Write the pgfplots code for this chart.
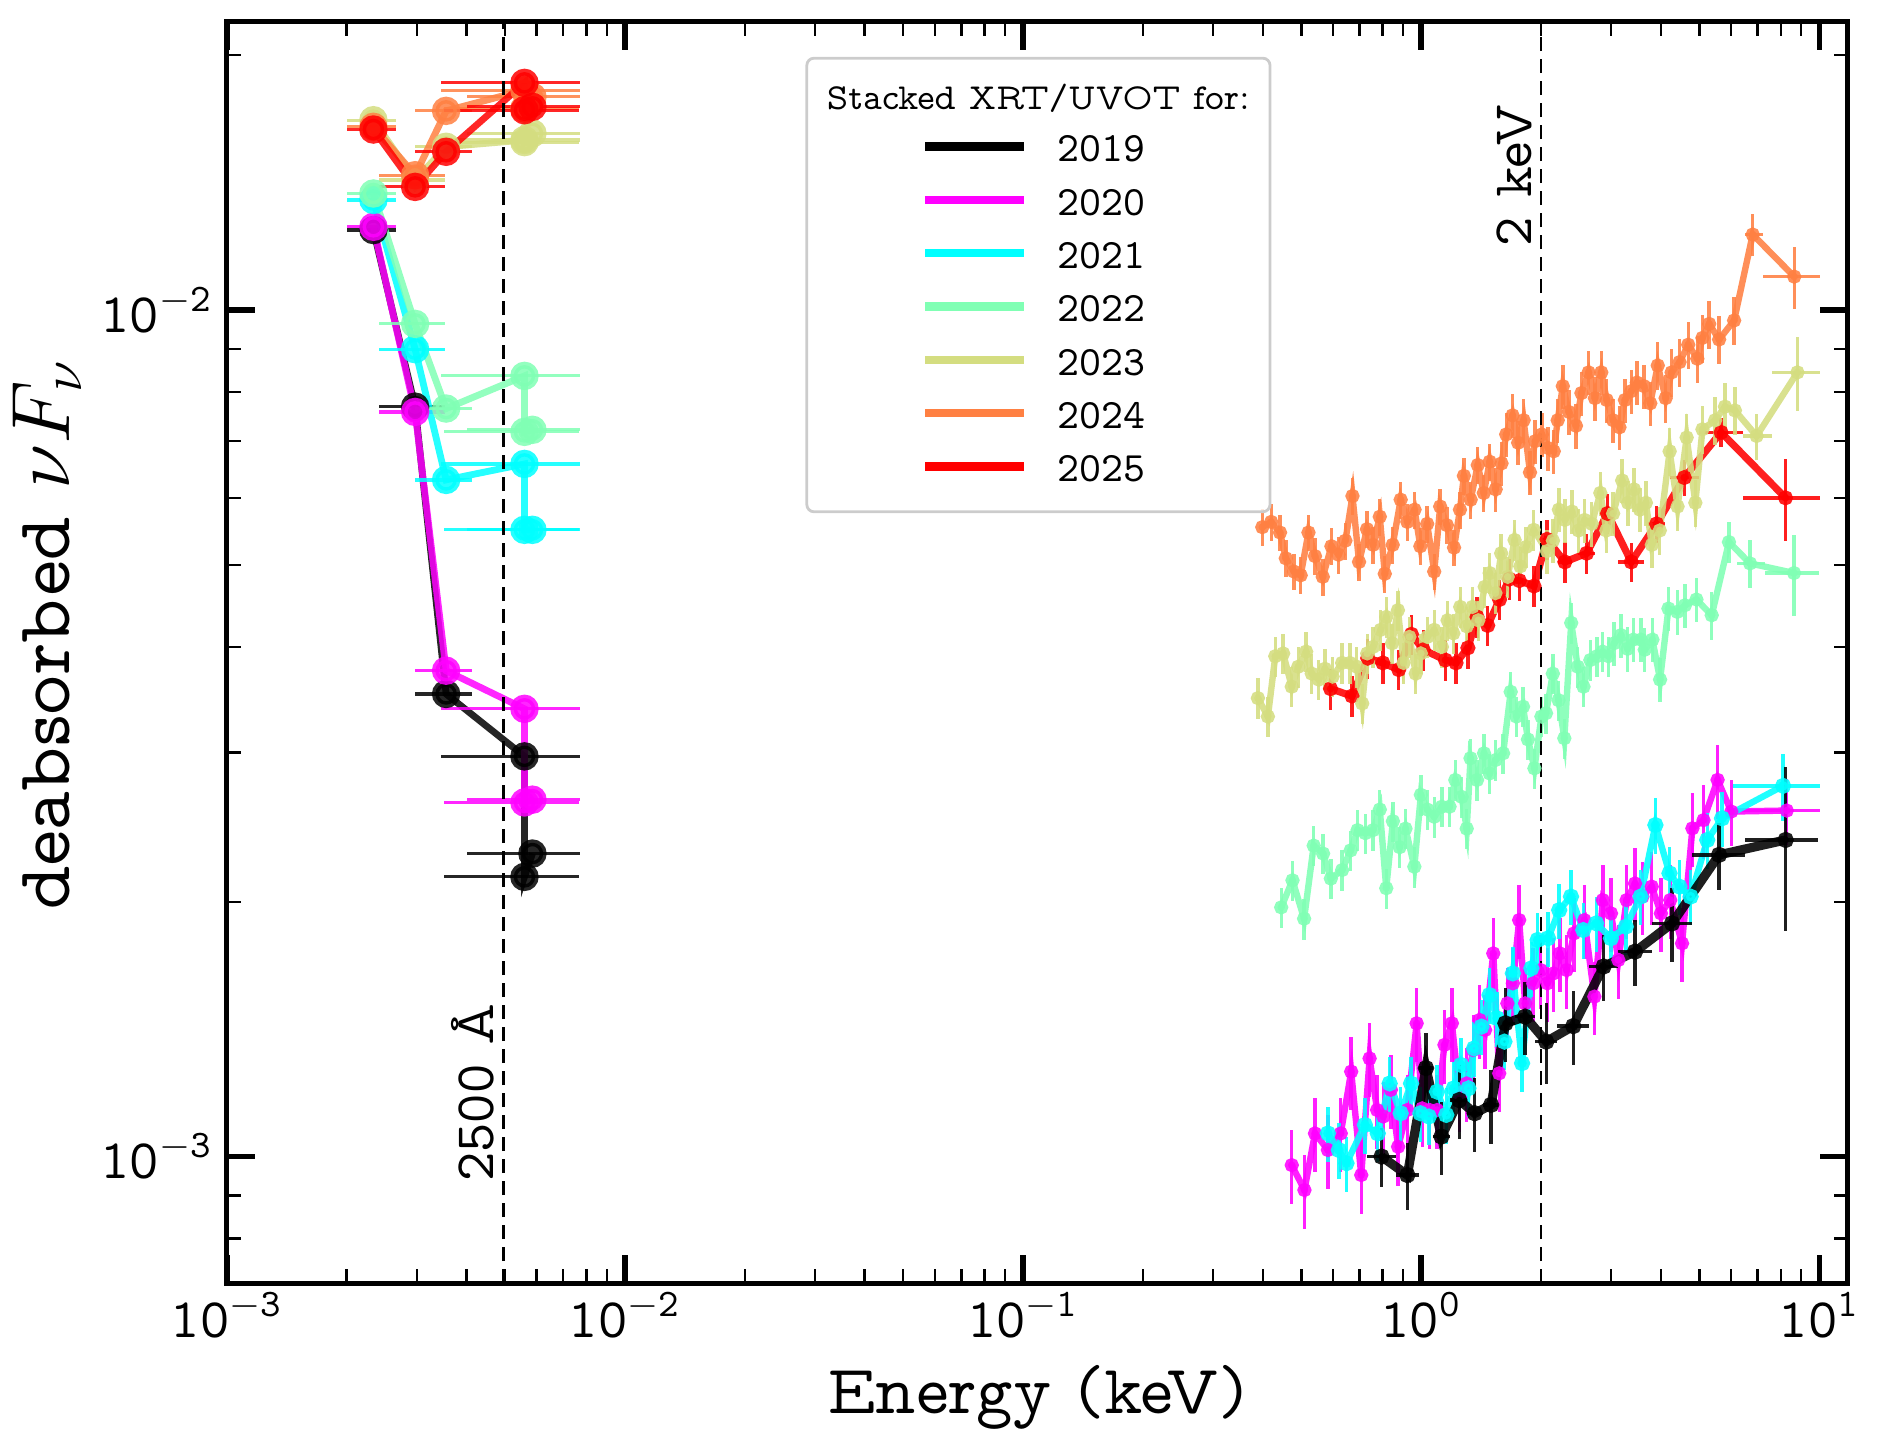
\documentclass[border=0pt]{standalone}
\usepackage{pgfplots}
\pgfplotsset{compat=1.18}
\newcommand{\lmv}{\fontfamily{lmvtt}\selectfont}
\definecolor{cA}{RGB}{0,0,0}
\definecolor{cB}{RGB}{255,0,255}
\definecolor{cC}{RGB}{0,255,255}
\definecolor{cD}{RGB}{128,255,180}
\definecolor{cE}{RGB}{212,221,128}
\definecolor{cF}{RGB}{255,128,66}
\definecolor{cG}{RGB}{255,0,0}
\definecolor{legborder}{RGB}{204,204,204}
\pgfplotsset{
  uvst/.style={line width=1.7bp, mark=*, mark size=2.7bp, opacity=0.85,
     error bars/x dir=both, error bars/x explicit, error bars/error mark=none,
     error bars/error bar style={line width=0.8bp, solid}},
  xrst/.style={line width=1.6bp, mark=*, mark size=0.95bp, opacity=0.88,
     error bars/x dir=both, error bars/x explicit,
     error bars/y dir=both, error bars/y explicit relative,
     error bars/error mark=none,
     error bars/error bar style={line width=0.85bp, solid}},
}
\begin{document}
\begin{tikzpicture}
\begin{axis}[
  scale only axis, width=405.3bp, height=315.3bp,
  xmode=log, ymode=log,
  xmin=1e-3, xmax=11.8, ymin=7.09e-4, ymax=0.0219,
  axis line style={line width=1.25bp},
  tick align=inside, xtick pos=both, ytick pos=both,
  xtick={1e-3,1e-2,1e-1,1,10},
  xticklabels={{10\textsuperscript{$-$3}},{10\textsuperscript{$-$2}},{10\textsuperscript{$-$1}},{10\textsuperscript{0}},{10\textsuperscript{1}}},
  ytick={1e-3,1e-2},
  yticklabels={{10\textsuperscript{$-$3}},{10\textsuperscript{$-$2}}},
  minor xtick={2e-3,3e-3,4e-3,5e-3,6e-3,7e-3,8e-3,9e-3,2e-2,3e-2,4e-2,5e-2,6e-2,7e-2,8e-2,9e-2,0.2,0.3,0.4,0.5,0.6,0.7,0.8,0.9,2,3,4,5,6,7,8,9},
  minor ytick={8e-4,9e-4,2e-3,3e-3,4e-3,5e-3,6e-3,7e-3,8e-3,9e-3,2e-2},
  major tick length=7bp, minor tick length=3.5bp,
  major tick style={line width=1.4bp, black},
  minor tick style={line width=0.6bp, black},
  tick label style={font=\fontsize{14}{16}\lmv},
  xticklabel style={yshift=1.3bp},
  xlabel={Energy (keV)},
  ylabel={deabsorbed $\nu F_\nu$},
  xlabel style={font=\fontsize{17.4}{20}\lmv, at={(axis description cs:0.5,-0.1034)}, anchor=base},
  ylabel style={font=\fontsize{19.2}{22}\lmv, at={(axis description cs:-0.097,0.514)}, anchor=base},
]
% ---------------- UV ----------------
\addplot[color=cA, uvst] table[x=x, y=y, x error=ex] {
x y ex
2.335e-3 1.243e-2 0.33e-3
2.972e-3 7.69e-3 0.56e-3
3.556e-3 3.52e-3 0.58e-3
5.594e-3 2.97e-3 2.14e-3
5.594e-3 2.14e-3 2.09e-3
5.858e-3 2.28e-3 1.85e-3
};
\addplot[color=cB, uvst] table[x=x, y=y, x error=ex] {
x y ex
2.335e-3 1.254e-2 0.33e-3
2.972e-3 7.58e-3 0.56e-3
3.556e-3 3.75e-3 0.58e-3
5.594e-3 3.38e-3 2.14e-3
5.594e-3 2.62e-3 2.09e-3
5.858e-3 2.64e-3 1.85e-3
};
\addplot[color=cC, uvst] table[x=x, y=y, x error=ex] {
x y ex
2.335e-3 1.349e-2 0.33e-3
2.972e-3 8.99e-3 0.56e-3
3.556e-3 6.30e-3 0.58e-3
5.594e-3 6.58e-3 2.14e-3
5.594e-3 5.50e-3 2.09e-3
5.858e-3 5.50e-3 1.85e-3
};
\addplot[color=cD, uvst] table[x=x, y=y, x error=ex] {
x y ex
2.335e-3 1.373e-2 0.33e-3
2.972e-3 9.63e-3 0.56e-3
3.556e-3 7.65e-3 0.58e-3
5.594e-3 8.36e-3 2.14e-3
5.594e-3 7.18e-3 2.09e-3
5.858e-3 7.22e-3 1.85e-3
};
\addplot[color=cE, uvst] table[x=x, y=y, x error=ex] {
x y ex
2.335e-3 1.676e-2 0.33e-3
2.972e-3 1.424e-2 0.56e-3
3.556e-3 1.559e-2 0.58e-3
5.594e-3 1.588e-2 2.14e-3
5.594e-3 1.579e-2 2.09e-3
5.858e-3 1.617e-2 1.85e-3
};
\addplot[color=cF, uvst] table[x=x, y=y, x error=ex] {
x y ex
2.335e-3 1.646e-2 0.33e-3
2.972e-3 1.443e-2 0.56e-3
3.556e-3 1.719e-2 0.58e-3
5.594e-3 1.819e-2 2.14e-3
5.594e-3 1.730e-2 2.09e-3
5.858e-3 1.786e-2 1.85e-3
};
\addplot[color=cG, uvst] table[x=x, y=y, x error=ex] {
x y ex
2.335e-3 1.634e-2 0.33e-3
2.972e-3 1.398e-2 0.56e-3
3.556e-3 1.538e-2 0.58e-3
5.594e-3 1.855e-2 2.14e-3
5.594e-3 1.722e-2 2.09e-3
5.858e-3 1.738e-2 1.85e-3
};
% ---------------- X-ray ----------------
% 2020
\addplot[color=cB, xrst] table[x=x, y=y, x error minus=exm, x error plus=exp, y error=ey] {
x y exm exp ey
0.473 0.977e-3 0 0 0.10
0.509 0.913e-3 0 0 0.10
0.541 1.065e-3 0 0 0.10
0.583 1.018e-3 0 0 0.10
0.628 1.065e-3 0 0 0.10
0.667 1.260e-3 0 0 0.10
0.707 0.951e-3 0 0 0.10
0.742 1.306e-3 0 0 0.10
0.775 1.135e-3 0 0 0.10
0.803 1.115e-3 0 0 0.10
0.839 1.199e-3 0 0 0.10
0.875 1.027e-3 0 0 0.10
0.923 1.135e-3 0 0 0.10
0.974 1.437e-3 0 0 0.10
1.006 1.140e-3 0 0 0.10
1.050 1.135e-3 0 0 0.10
1.096 1.135e-3 0 0 0.10
1.144 1.355e-3 0 0 0.10
1.194 1.437e-3 0 0 0.10
1.246 1.188e-3 0 0 0.10
1.300 1.220e-3 0 0 0.10
1.351 1.336e-3 0 0 0.10
1.402 1.450e-3 0 0 0.10
1.447 1.411e-3 0 0 0.10
1.517 1.738e-3 0 0 0.10
1.570 1.254e-3 0 0 0.10
1.646 1.517e-3 0 0 0.10
1.699 1.602e-3 0 0 0.10
1.762 1.903e-3 0 0 0.10
1.824 1.517e-3 0 0 0.10
1.911 1.602e-3 0 0 0.10
1.995 1.661e-3 0 0 0.10
2.074 1.602e-3 0 0 0.10
2.150 1.646e-3 0 0 0.10
2.230 1.738e-3 0 0 0.10
2.318 1.661e-3 0 0 0.10
2.419 1.835e-3 0 0 0.10
2.569 1.903e-3 0 0 0.10
2.722 1.545e-3 0 0 0.10
2.859 2.009e-3 0 0 0.10
2.997 1.938e-3 0 0 0.10
3.128 1.707e-3 0 0 0.10
3.280 2.009e-3 0 0 0.10
3.444 2.102e-3 0 0 0.10
3.595 2.028e-3 0 0 0.10
3.793 2.084e-3 0 0 0.10
4.000 1.938e-3 0 0 0.10
4.221 2.009e-3 0 0 0.10
4.520 1.786e-3 0 0 0.10
4.799 2.442e-3 0 0 0.10
5.117 2.497e-3 0 0 0.10
5.551 2.786e-3 0 0 0.10
6.009 2.556e-3 0 0 0.09
8.283 2.563e-3 2.18 1.76 0.09
};
% 2021
\addplot[color=cC, xrst, mark size=1.2bp] table[x=x, y=y, x error minus=exm, x error plus=exp, y error=ey] {
x y exm exp ey
0.583 1.065e-3 0 0 0.075
0.621 1.018e-3 0 0 0.075
0.649 0.982e-3 0 0 0.075
0.722 1.090e-3 0 0 0.075
0.778 1.065e-3 0 0 0.075
0.833 1.220e-3 0 0 0.075
0.888 1.125e-3 0 0 0.075
0.943 1.220e-3 0 0 0.075
0.995 1.125e-3 0 0 0.075
1.045 1.115e-3 0 0 0.075
1.096 1.193e-3 0 0 0.075
1.156 1.120e-3 0 0 0.075
1.207 1.204e-3 0 0 0.075
1.259 1.283e-3 0 0 0.075
1.314 1.204e-3 0 0 0.075
1.357 1.342e-3 0 0 0.075
1.417 1.424e-3 0 0 0.075
1.485 1.552e-3 0 0 0.075
1.550 1.457e-3 0 0 0.075
1.618 1.367e-3 0 0 0.075
1.699 1.646e-3 0 0 0.075
1.792 1.289e-3 0 0 0.075
1.891 1.669e-3 0 0 0.075
1.961 1.803e-3 0 0 0.075
2.083 1.811e-3 0 0 0.075
2.221 1.955e-3 0 0 0.075
2.378 2.028e-3 0 0 0.075
2.553 1.852e-3 0 0 0.075
2.751 1.886e-3 0 0 0.075
2.997 1.811e-3 0 0 0.075
3.265 1.869e-3 0 0 0.075
3.556 2.028e-3 0 0 0.075
3.875 2.464e-3 0 0 0.075
4.203 2.161e-3 0 0 0.075
4.453 2.084e-3 0 0 0.075
4.749 2.028e-3 0 0 0.075
5.228 2.366e-3 0 0 0.075
5.695 2.509e-3 0 0 0.075
8.108 2.741e-3 2.04 1.93 0.09
};
% 2022
\addplot[color=cD, xrst] table[x=x, y=y, x error minus=exm, x error plus=exp, y error=ey] {
x y exm exp ey
0.445 1.97e-3 0 0 0.055
0.475 2.12e-3 0 0 0.055
0.508 1.91e-3 0 0 0.055
0.537 2.33e-3 0 0 0.055
0.567 2.28e-3 0 0 0.055
0.593 2.13e-3 0 0 0.055
0.633 2.18e-3 0 0 0.055
0.665 2.30e-3 0 0 0.055
0.692 2.43e-3 0 0 0.055
0.724 2.41e-3 0 0 0.055
0.757 2.43e-3 0 0 0.055
0.787 2.57e-3 0 0 0.055
0.817 2.075e-3 0 0 0.055
0.849 2.49e-3 0 0 0.055
0.883 2.32e-3 0 0 0.055
0.913 2.44e-3 0 0 0.055
0.961 2.20e-3 0 0 0.055
0.998 2.675e-3 0 0 0.055
1.036 2.57e-3 0 0 0.055
1.078 2.52e-3 0 0 0.055
1.127 2.59e-3 0 0 0.055
1.178 2.59e-3 0 0 0.055
1.218 2.785e-3 0 0 0.055
1.264 2.66e-3 0 0 0.055
1.301 2.44e-3 0 0 0.055
1.330 2.955e-3 0 0 0.055
1.381 2.785e-3 0 0 0.055
1.438 2.995e-3 0 0 0.055
1.486 2.835e-3 0 0 0.055
1.536 2.94e-3 0 0 0.055
1.606 2.995e-3 0 0 0.055
1.678 3.54e-3 0 0 0.055
1.735 3.31e-3 0 0 0.055
1.802 3.40e-3 0 0 0.055
1.854 3.11e-3 0 0 0.055
1.925 2.875e-3 0 0 0.055
2.004 3.31e-3 0 0 0.055
2.058 3.34e-3 0 0 0.055
2.141 3.72e-3 0 0 0.055
2.213 3.46e-3 0 0 0.055
2.288 3.12e-3 0 0 0.055
2.381 4.27e-3 0 0 0.055
2.473 3.79e-3 0 0 0.055
2.556 3.59e-3 0 0 0.055
2.660 3.86e-3 0 0 0.055
2.762 3.90e-3 0 0 0.055
2.855 3.95e-3 0 0 0.055
2.952 3.90e-3 0 0 0.055
3.052 4.04e-3 0 0 0.06
3.176 4.13e-3 0 0 0.06
3.298 3.98e-3 0 0 0.06
3.409 4.08e-3 0 0 0.06
3.563 4.08e-3 0 0 0.06
3.643 3.97e-3 0 0 0.06
3.808 4.08e-3 0 0 0.06
3.981 3.66e-3 0 0 0.06
4.178 4.44e-3 0 0 0.06
4.398 4.40e-3 0 0 0.06
4.597 4.48e-3 0 0 0.06
4.912 4.55e-3 0 0 0.06
5.366 4.36e-3 0 0 0.065
5.929 5.32e-3 0 0 0.055
6.697 5.02e-3 0.50 0.618 0.065
8.638 4.89e-3 1.323 1.337 0.11
};
% 2025
\addplot[color=cG, xrst, line width=1.8bp] table[x=x, y=y, x error minus=exm, x error plus=exp, y error=ey] {
x y exm exp ey
0.592 3.57e-3 0 0 0.055
0.670 3.50e-3 0 0 0.055
0.734 3.88e-3 0 0 0.055
0.801 3.83e-3 0 0 0.055
0.878 3.76e-3 0 0 0.055
0.945 4.14e-3 0 0 0.055
1.012 3.97e-3 0 0 0.055
1.150 3.86e-3 0 0 0.055
1.223 3.83e-3 0 0 0.055
1.310 3.99e-3 0 0 0.055
1.381 4.34e-3 0 0 0.055
1.469 4.24e-3 0 0 0.055
1.573 4.55e-3 0 0 0.055
1.665 4.81e-3 0 0 0.055
1.764 4.79e-3 0 0 0.055
1.920 4.72e-3 0 0 0.055
2.070 5.36e-3 0.06 0.07 0.055
2.295 5.04e-3 0.09 0.10 0.055
2.603 5.16e-3 0.12 0.13 0.055
2.938 5.75e-3 0.13 0.14 0.055
3.370 5.04e-3 0.245 0.256 0.053
3.902 5.59e-3 0.20 0.20 0.05
4.578 6.34e-3 0.371 0.416 0.05
5.664 7.17e-3 0.670 0.759 0.04
8.222 6.00e-3 1.799 1.808 0.11
};
% 2023
\addplot[color=cE, xrst] table[x=x, y=y, x error minus=exm, x error plus=exp, y error=ey] {
x y exm exp ey
0.389 3.48e-3 0 0 0.055
0.412 3.31e-3 0 0 0.055
0.430 3.90e-3 0 0 0.055
0.450 3.93e-3 0 0 0.055
0.473 3.59e-3 0 0 0.055
0.491 3.79e-3 0 0 0.055
0.514 3.95e-3 0 0 0.055
0.531 3.72e-3 0 0 0.055
0.553 3.66e-3 0 0 0.055
0.573 3.77e-3 0 0 0.055
0.599 3.69e-3 0 0 0.055
0.633 3.83e-3 0 0 0.055
0.662 3.83e-3 0 0 0.055
0.689 3.79e-3 0 0 0.055
0.711 3.43e-3 0 0 0.055
0.732 3.93e-3 0 0 0.055
0.757 4.00e-3 0 0 0.055
0.791 4.19e-3 0 0 0.055
0.817 4.34e-3 0 0 0.055
0.845 4.04e-3 0 0 0.055
0.874 4.42e-3 0 0 0.055
0.903 3.83e-3 0 0 0.055
0.934 4.11e-3 0 0 0.055
0.969 3.72e-3 0 0 0.055
0.998 3.93e-3 0 0 0.055
1.036 4.11e-3 0 0 0.055
1.078 4.19e-3 0 0 0.055
1.127 4.00e-3 0 0 0.055
1.165 4.30e-3 0 0 0.055
1.204 4.15e-3 0 0 0.055
1.253 4.46e-3 0 0 0.055
1.301 4.23e-3 0 0 0.055
1.345 4.46e-3 0 0 0.055
1.391 4.30e-3 0 0 0.055
1.444 4.71e-3 0 0 0.055
1.486 4.89e-3 0 0 0.055
1.536 4.63e-3 0 0 0.055
1.588 5.16e-3 0 0 0.055
1.649 4.84e-3 0 0 0.055
1.716 5.35e-3 0 0 0.055
1.774 4.98e-3 0 0 0.055
1.834 5.25e-3 0 0 0.055
1.917 5.50e-3 0 0 0.055
2.070 5.19e-3 0 0 0.06
2.142 5.34e-3 0 0 0.06
2.217 5.81e-3 0 0 0.06
2.295 5.65e-3 0 0 0.06
2.391 5.78e-3 0 0 0.06
2.485 5.49e-3 0 0 0.06
2.572 5.65e-3 0 0 0.06
2.681 5.59e-3 0 0 0.06
2.818 6.08e-3 0 0 0.06
2.917 5.49e-3 0 0 0.06
3.034 5.75e-3 0 0 0.06
3.197 6.29e-3 0 0 0.06
3.308 5.92e-3 0 0 0.06
3.423 6.14e-3 0 0 0.06
3.543 5.81e-3 0 0 0.06
3.667 5.92e-3 0 0 0.06
3.796 5.28e-3 0 0 0.06
3.974 5.49e-3 0 0 0.065
4.207 6.81e-3 0 0 0.065
4.404 5.86e-3 0 0 0.065
4.642 7.07e-3 0 0 0.065
4.881 5.92e-3 0 0 0.065
5.086 7.23e-3 0 0 0.065
5.472 7.41e-3 0 0 0.065
5.794 7.69e-3 0 0 0.065
6.136 7.61e-3 0 0 0.065
6.958 7.10e-3 0.535 0.668 0.062
8.808 8.44e-3 1.182 1.222 0.10
};
% 2024
\addplot[color=cF, xrst] table[x=x, y=y, x error minus=exm, x error plus=exp, y error=ey] {
x y exm exp ey
0.399 5.54e-3 0 0 0.05
0.420 5.62e-3 0 0 0.05
0.442 5.46e-3 0 0 0.05
0.457 5.09e-3 0 0 0.05
0.479 4.91e-3 0 0 0.05
0.498 4.86e-3 0 0 0.05
0.521 5.46e-3 0 0 0.05
0.541 5.12e-3 0 0 0.05
0.566 4.84e-3 0 0 0.05
0.595 5.26e-3 0 0 0.05
0.620 5.14e-3 0 0 0.05
0.645 5.34e-3 0 0 0.05
0.672 6.03e-3 0 0 0.05
0.698 5.04e-3 0 0 0.05
0.731 5.51e-3 0 0 0.05
0.757 5.28e-3 0 0 0.05
0.787 5.70e-3 0 0 0.05
0.810 4.88e-3 0 0 0.05
0.848 5.28e-3 0 0 0.05
0.888 5.97e-3 0 0 0.05
0.923 5.62e-3 0 0 0.05
0.962 5.81e-3 0 0 0.05
0.995 5.26e-3 0 0 0.05
1.035 5.59e-3 0 0 0.05
1.078 4.91e-3 0 0 0.05
1.116 5.86e-3 0 0 0.05
1.160 5.57e-3 0 0 0.05
1.209 5.24e-3 0 0 0.05
1.251 5.81e-3 0 0 0.05
1.280 6.37e-3 0 0 0.05
1.331 5.97e-3 0 0 0.05
1.387 6.56e-3 0 0 0.05
1.436 6.08e-3 0 0 0.05
1.486 6.62e-3 0 0 0.05
1.538 6.14e-3 0 0 0.06
1.591 6.59e-3 0 0 0.06
1.635 7.13e-3 0 0 0.06
1.696 7.51e-3 0 0 0.06
1.752 6.97e-3 0 0 0.06
1.808 7.41e-3 0 0 0.06
1.876 6.43e-3 0 0 0.06
1.933 7.00e-3 0 0 0.06
2.009 7.13e-3 0 0 0.06
2.084 6.87e-3 0 0 0.06
2.152 6.81e-3 0 0 0.06
2.202 7.41e-3 0 0 0.06
2.268 8.13e-3 0 0 0.06
2.348 7.58e-3 0 0 0.06
2.447 7.30e-3 0 0 0.06
2.526 7.98e-3 0 0 0.06
2.633 8.44e-3 0 0 0.06
2.731 7.87e-3 0 0 0.06
2.833 8.44e-3 0 0 0.06
2.924 7.83e-3 0 0 0.06
3.034 7.41e-3 0 0 0.06
3.147 7.27e-3 0 0 0.06
3.249 7.83e-3 0 0 0.06
3.370 8.02e-3 0 0 0.06
3.480 8.21e-3 0 0 0.06
3.626 8.13e-3 0 0 0.06
3.761 7.76e-3 0 0 0.06
3.928 8.60e-3 0 0 0.065
4.111 7.87e-3 0 0 0.065
4.255 8.44e-3 0 0 0.065
4.455 8.68e-3 0 0 0.065
4.684 9.10e-3 0 0 0.065
4.937 8.76e-3 0 0 0.065
5.086 9.27e-3 0 0 0.065
5.288 9.63e-3 0 0 0.065
5.600 9.23e-3 0 0 0.065
6.108 9.72e-3 0 0 0.065
6.801 1.228e-2 0.305 0.399 0.058
8.648 1.095e-2 1.448 1.382 0.083
};
% 2019
\addplot[color=cA, xrst, line width=2.3bp, mark size=0.85bp] table[x=x, y=y, x error minus=exm, x error plus=exp, y error=ey] {
x y exm exp ey
0.795 1.000e-3 0.065 0.067 0.08
0.923 0.951e-3 0.061 0.062 0.09
1.028 1.272e-3 0.043 0.045 0.10
1.124 1.056e-3 0.051 0.057 0.10
1.246 1.166e-3 0.065 0.054 0.10
1.363 1.125e-3 0.063 0.069 0.10
1.498 1.151e-3 0.066 0.062 0.10
1.628 1.437e-3 0.068 0.090 0.10
1.824 1.463e-3 0.106 0.108 0.10
2.061 1.367e-3 0.129 0.136 0.11
2.409 1.426e-3 0.212 0.227 0.10
2.871 1.677e-3 0.235 0.257 0.09
3.444 1.746e-3 0.316 0.349 0.09
4.266 1.886e-3 0.473 0.512 0.10
5.600 2.272e-3 0.822 0.903 0.09
8.230 2.366e-3 1.727 1.706 0.22
};
% reference lines
\addplot[black, line width=0.6bp, dash pattern=on 3.5bp off 2bp, forget plot] coordinates {(4.959e-3,7.09e-4) (4.959e-3,0.0219)};
\addplot[black, line width=0.6bp, dash pattern=on 3.5bp off 2bp, forget plot] coordinates {(2,7.09e-4) (2,0.0219)};
\node[rotate=90, anchor=base, inner sep=0pt, font=\fontsize{14}{16}\lmv] at (axis cs:4.675e-3,1.191e-3) {2500 Å};
\node[rotate=90, anchor=base, inner sep=0pt, font=\fontsize{14}{16}\lmv] at (axis cs:1.888,1.442e-2) {2 keV};
\end{axis}
% legend
\draw[draw=legborder, line width=0.7bp, fill=white, fill opacity=0.8, rounded corners=1.8bp] (145bp,192.8bp) rectangle (260.8bp,306.2bp);
\node[anchor=base, inner sep=0pt, font=\fontsize{9.2}{11}\lmv] at (202.9bp,293.25bp) {Stacked XRT/UVOT for:};
\foreach \c/\t [count=\i from 0] in {cA/2019,cB/2020,cC/2021,cD/2022,cE/2023,cF/2024,cG/2025}{
  \draw[color=\c, line width=2.1bp] (174.6bp,284.1bp-\i*13.33bp) -- (199.2bp,284.1bp-\i*13.33bp);
  \node[anchor=base west, inner sep=0pt, font=\fontsize{10.5}{12}\lmv] at (207.5bp,280.3bp-\i*13.33bp) {\t};
}
\pgfresetboundingbox
\path[use as bounding box] (-56.7bp,-42bp) rectangle (414.3bp,320.75bp);
\end{tikzpicture}
\end{document}
